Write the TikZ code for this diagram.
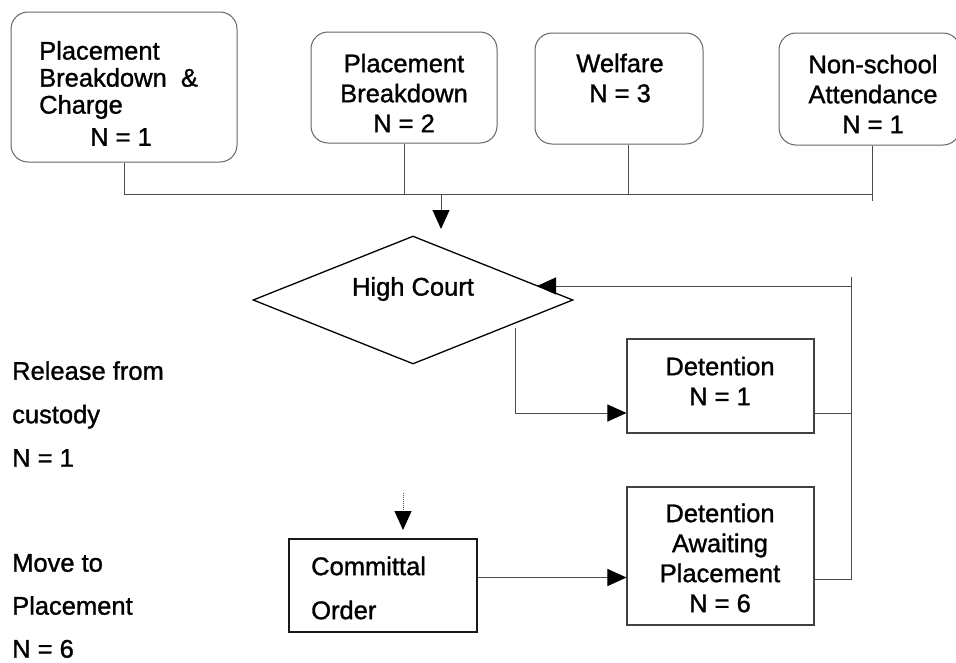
\documentclass[tikz,border=0pt]{standalone}
\usepackage{fontspec}
\setmainfont{Liberation Sans}[FakeBold=1.2]
\usetikzlibrary{shapes.geometric,arrows.meta}

\begin{document}
\begin{tikzpicture}[x=1pt,y=-1pt,
  txt/.style={font=\fontsize{25.5}{30}\selectfont, inner sep=0pt, align=center},
  rbox/.style={draw=black!60, line width=1pt, rounded corners=17pt, inner sep=0pt},
  sbox/.style={draw=black!75, line width=1.1pt, inner sep=0pt},
  dbox/.style={draw=black!90, line width=1.4pt, inner sep=0pt},
  conn/.style={draw=black!70, line width=1pt},
  arr/.style={conn, -{Triangle[length=19pt,width=17pt,color=black]}}]

\useasboundingbox (0,0) rectangle (956,662);

% ---- reasons for entering care (top row) ----
\node[rbox, minimum width=226pt, minimum height=150pt] (b1) at (124,87) {};
\node[rbox, minimum width=186pt, minimum height=111pt] (b2) at (404,87.5) {};
\node[rbox, minimum width=168pt, minimum height=111pt] (b3) at (619,88.5) {};
\node[rbox, minimum width=181pt, minimum height=112pt] (b4) at (869.5,89) {};

\node[txt, align=left, anchor=west, font=\fontsize{25.5}{27}\selectfont] (t1) at (39,80)
  {Placement\\Breakdown\ \ \&\\Charge};
\node[txt] (t1n) at (121,137) {N = 1};
\node[txt] (t2) at (404,93) {Placement\\Breakdown\\N = 2};
\node[txt] (t3) at (620,78) {Welfare\\N = 3};
\node[txt] (t4) at (873,94) {Non-school\\Attendance\\N = 1};

% ---- court and outcomes ----
\node[diamond, draw=black, line width=1.3pt, minimum width=320pt, minimum height=128pt, inner sep=0pt] (hc) at (413,300) {};
\node[txt] (hct) at (413,289) {High Court};

\node[sbox, minimum width=187pt, minimum height=94pt] (det) at (720.5,386) {};
\node[txt] (dett) at (720,381) {Detention\\N = 1};

\node[sbox, minimum width=187pt, minimum height=138pt] (dap) at (720.5,556) {};
\node[txt] (dapt) at (720,558) {Detention\\Awaiting\\Placement\\N = 6};

\node[dbox, minimum width=188pt, minimum height=93pt] (com) at (383,585.5) {};
\node[txt, align=left, anchor=west, font=\fontsize{25.5}{44}\selectfont] (comt) at (311,588) {Committal\\Order};

% ---- side labels ----
\node[txt, align=left, anchor=west, font=\fontsize{25.5}{43.5}\selectfont] (rel) at (12,414)
  {Release from\\custody\\N = 1};
\node[txt, align=left, anchor=west, font=\fontsize{25.5}{43}\selectfont] (mov) at (12,606)
  {Move to\\Placement\\N = 6};

% ---- connectors ----
\coordinate (jr) at (872,194);
\coordinate (ja) at (441,194);
\coordinate (hcin) at (537,286);
\coordinate (hcout) at (515,328);
\coordinate (fbtop) at (851,277);
\coordinate (cotop) at (403,493);

\draw[conn] (b1.south) |- (jr);
\draw[conn] (b2.south) -- (b2.south |- jr);
\draw[conn] ([xshift=9pt]b3.south) -- ([xshift=9pt]b3.south |- jr);
\draw[conn] ([xshift=2.5pt]b4.south) -- ++(0,55);
\draw[arr] (ja) -- ++(0,35);

\draw[arr] (hcout) |- ([yshift=-27pt]det.west);
\draw[conn] ([yshift=-27pt]det.east) -- ([yshift=-27pt]det.east -| fbtop);
\draw[conn] ([yshift=-23pt]dap.east) -| (fbtop);
\draw[arr] (fbtop |- hcin) -- (hcin);

\draw[conn, densely dotted] (cotop) -- ++(0,19);
\draw[arr] (cotop |- 0,511) -- (cotop |- 0,530);
\draw[arr] ([yshift=8pt]com.east) -- ([yshift=8pt]com.east -| dap.west);

\end{tikzpicture}
\end{document}
